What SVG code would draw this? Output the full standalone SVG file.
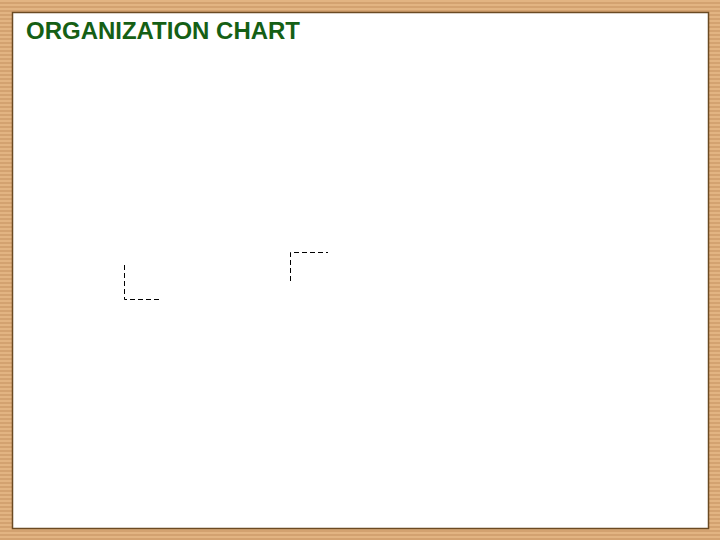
<svg xmlns="http://www.w3.org/2000/svg" width="720" height="540" viewBox="0 0 720 540">
  <defs>
    <pattern id="wood" x="0" y="0" width="720" height="4" patternUnits="userSpaceOnUse">
      <rect x="0" y="0" width="720" height="2" fill="#E2B482"/>
      <rect x="0" y="2" width="720" height="2" fill="#D3A270"/>
    </pattern>
  </defs>
  <style>
    .title { font-family: "Liberation Sans", Arial, sans-serif; font-weight: bold; font-size: 23px; fill: #155F15; }
    .conn { fill: none; stroke: #000000; stroke-width: 1; stroke-dasharray: 5 3; }
  </style>
  <rect x="0" y="0" width="720" height="540" fill="url(#wood)"/>
  <rect id="panel" x="12.5" y="12.5" width="696" height="516" fill="#FFFFFF" stroke="#6B4A22" stroke-width="1.5"/>
  <g id="title">
    <text class="title" x="26" y="38.5" textLength="274" lengthAdjust="spacingAndGlyphs">ORGANIZATION CHART</text>
  </g>
  <g id="connectors">
    <path class="conn" d="M124.5 265 V299.5 H162"/>
    <path class="conn" d="M290.5 281 V252.5 H328"/>
  </g>
</svg>
